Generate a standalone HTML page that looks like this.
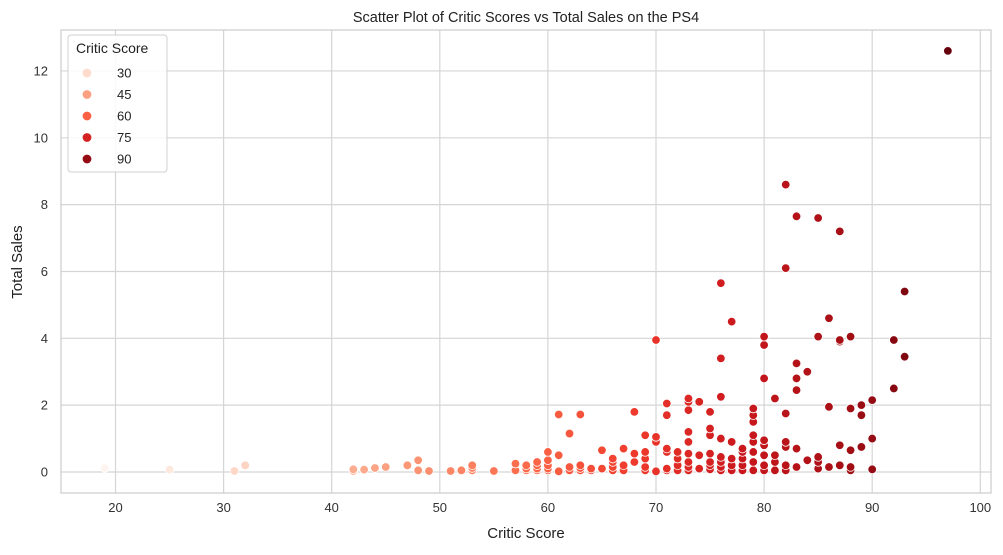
<!DOCTYPE html>
<html><head><meta charset="utf-8"><style>
body{margin:0;background:#fff;font-family:"Liberation Sans","DejaVu Sans",sans-serif;}
</style></head><body>
<svg id="chart" width="1003" height="550" font-family="Liberation Sans, DejaVu Sans, sans-serif">
<text x="526" y="22" text-anchor="middle" font-size="14.5" fill="#222">Scatter Plot of Critic Scores vs Total Sales on the PS4</text>
<g id="grid"></g>
<rect x="61" y="30" width="930" height="463" fill="none" stroke="#cccccc" stroke-width="1.2"/>
<g id="points"></g>
<g id="ticks"></g>
<text x="526" y="538" text-anchor="middle" font-size="15" fill="#222">Critic Score</text>
<text transform="translate(22,262) rotate(-90)" text-anchor="middle" font-size="15" fill="#222">Total Sales</text>
<g id="legend"></g>
</svg>
<script>
const scores=[19,25,31,32,42,42,43,44,45,47,48,48,49,51,52,53,53,53,55,57,57,58,58,58,59,59,59,59,60,60,60,60,60,61,61,61,62,62,62,63,63,63,63,64,64,65,65,66,66,66,66,67,67,67,68,68,68,69,69,69,69,69,70,70,70,70,71,71,71,71,71,71,72,72,72,72,73,73,73,73,73,73,73,73,73,74,74,74,75,75,75,75,75,75,75,76,76,76,76,76,76,76,76,77,77,77,77,77,78,78,78,78,78,79,79,79,79,79,79,79,79,80,80,80,80,80,80,80,80,81,81,81,81,82,82,82,82,82,82,82,83,83,83,83,83,83,84,84,85,85,85,85,85,86,86,86,87,87,87,87,87,88,88,88,88,88,89,89,89,90,90,90,92,92,93,93,97];
const sales=[0.12,0.07,0.03,0.2,0.03,0.08,0.07,0.12,0.15,0.2,0.35,0.05,0.03,0.03,0.05,0.05,0.12,0.2,0.03,0.05,0.25,0.05,0.1,0.2,0.05,0.1,0.2,0.3,0.05,0.1,0.2,0.35,0.6,0.02,0.5,1.72,0.05,0.15,1.15,0.05,0.12,0.2,1.72,0.05,0.1,0.1,0.65,0.05,0.15,0.3,0.4,0.05,0.2,0.7,0.3,0.55,1.8,0.05,0.15,0.4,0.6,1.1,0.02,0.9,1.05,3.95,0.05,0.1,0.6,0.7,1.7,2.05,0.05,0.2,0.4,0.6,0.05,0.15,0.3,0.55,0.9,1.2,1.85,2.1,2.2,0.1,0.5,2.1,0.08,0.2,0.3,0.55,1.1,1.3,1.8,0.05,0.15,0.3,0.45,1.0,2.25,3.4,5.65,0.05,0.2,0.4,0.9,4.5,0.05,0.2,0.4,0.6,0.7,0.05,0.3,0.6,0.9,1.1,1.5,1.7,1.9,0.05,0.2,0.5,0.8,0.95,2.8,3.8,4.05,0.05,0.3,0.5,2.2,0.05,0.2,0.75,0.9,1.75,6.1,8.6,0.15,0.7,2.45,2.8,3.25,7.65,0.35,3.0,0.1,0.3,0.45,4.05,7.6,0.15,1.95,4.6,0.2,0.8,3.9,3.95,7.2,0.05,0.15,0.65,1.9,4.05,0.75,1.7,2.0,0.08,1.0,2.15,2.5,3.95,3.45,5.4,12.6];
const xTicks=[20,30,40,50,60,70,80,90,100];
const yTicks=[0,2,4,6,8,10,12];
const legendValues=[30,45,60,75,90];
const X=v=>115.5+(v-20)*10.81;
const Y=v=>472-v*33.42;
const stops=["#fff5f0","#fee0d2","#fcbba1","#fc9272","#fb6a4a","#ef3b2c","#cb181d","#a50f15","#67000d"];
const hmin=Math.min(...scores),hmax=Math.max(...scores);
function hex(h){return [1,3,5].map(i=>parseInt(h.substr(i,2),16));}
function color(v){let t=(v-hmin)/(hmax-hmin);t=Math.max(0,Math.min(1,t))*(stops.length-1);const i=Math.min(Math.floor(t),stops.length-2),f=t-i;const a=hex(stops[i]),b=hex(stops[i+1]);return "rgb("+a.map((c,k)=>Math.round(c+(b[k]-c)*f)).join(",")+")";}
const NS="http://www.w3.org/2000/svg";
function mk(tag,attrs,parent){const e=document.createElementNS(NS,tag);for(const k in attrs)e.setAttribute(k,attrs[k]);parent.appendChild(e);return e;}
const grid=document.getElementById('grid'),ticks=document.getElementById('ticks'),pts=document.getElementById('points'),leg=document.getElementById('legend');
xTicks.forEach(v=>{const l=mk('line',{x1:X(v),x2:X(v),y1:30,y2:493,stroke:'#d5d5d5','stroke-width':1.2},grid);


const t=mk('text',{x:X(v),y:512,'text-anchor':'middle','font-size':13,fill:'#333'},ticks);t.textContent=v;

});
yTicks.forEach(v=>{const l=mk('line',{x1:61,x2:991,y1:Y(v),y2:Y(v),stroke:'#d5d5d5','stroke-width':1.2},grid);


const t=mk('text',{x:48,y:Y(v)+4.5,'text-anchor':'end','font-size':13,fill:'#333'},ticks);t.textContent=v;

});
scores.forEach((s,i)=>{const c=mk('circle',{cx:X(s),cy:Y(sales[i]),r:4.3,fill:color(s),stroke:'#fff','stroke-width':0.8},pts);

});
const box=mk('rect',{x:68,y:35,width:99,height:137,rx:3,fill:'#fff','fill-opacity':0.85,stroke:'#d0d0d0'},leg);


const lt=mk('text',{x:76,y:53,'font-size':14,fill:'#222'},leg);lt.textContent='Critic Score';


legendValues.forEach((v,i)=>{const y=73+i*21.5;const c=mk('circle',{cx:87,cy:y,r:4.8,fill:color(v),stroke:'#fff','stroke-width':0.8},leg);


const t=mk('text',{x:117,y:y+4.5,'font-size':13,fill:'#222'},leg);t.textContent=v;

});
</script>
</body></html>
